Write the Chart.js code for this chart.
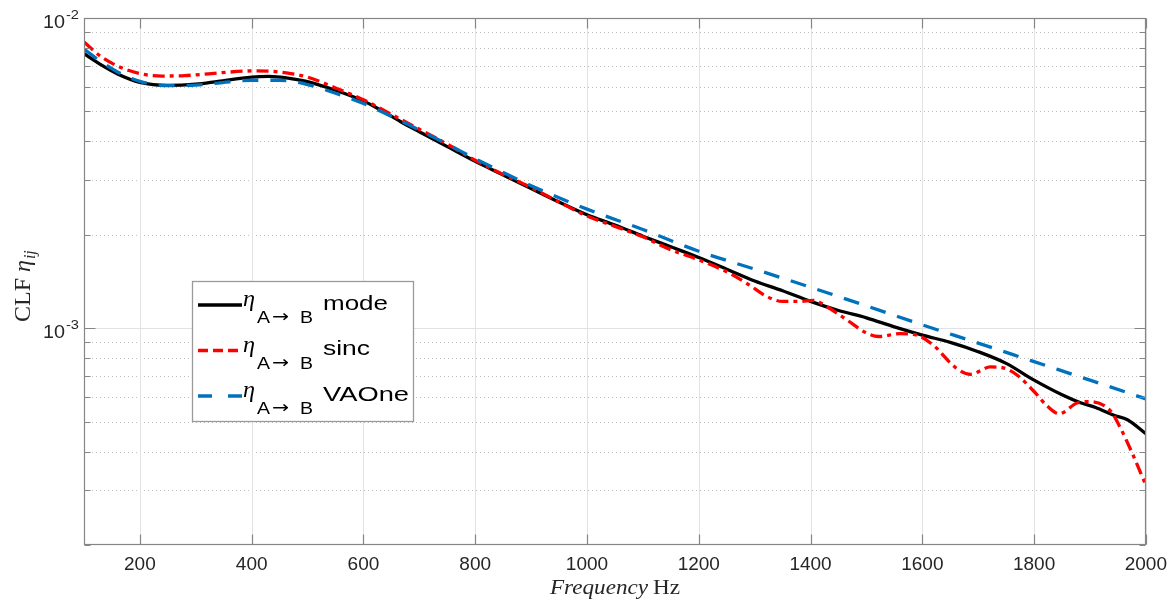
<!DOCTYPE html>
<html>
<head>
<meta charset="utf-8">
<script src="https://cdn.jsdelivr.net/npm/chart.js@4.4.0/dist/chart.umd.min.js"></script>
<style>
    html, body { margin: 0; padding: 0; background: #ffffff; }
    #wrap { position: relative; width: 1175px; height: 604px; }
</style>
</head>
<body>
<div id="wrap"><canvas id="clfChart" width="1175" height="604"></canvas></div>
<script>
// values (Hz / CLF)
const modeFreq = [100, 130, 160, 200, 250, 300, 340, 400, 430, 470, 500, 550, 600, 630, 666, 700, 750, 800, 850, 900, 950, 1000,
    1050, 1100, 1150, 1200, 1250, 1300, 1350, 1400, 1450, 1500, 1550, 1600, 1650, 1700, 1750, 1800, 1850, 1883, 1910, 1943, 1967, 2000];
const modeClf = [7.67e-3, 7.07e-3, 6.6e-3, 6.2e-3, 6.06e-3, 6.12e-3, 6.25e-3, 6.45e-3, 6.48e-3, 6.38e-3, 6.24e-3, 5.85e-3, 5.4e-3, 5.06e-3, 4.64e-3, 4.3e-3, 3.85e-3, 3.45e-3, 3.12e-3, 2.82e-3, 2.55e-3, 2.32e-3,
    2.15e-3, 1.98e-3, 1.83e-3, 1.69e-3, 1.55e-3, 1.42e-3, 1.32e-3, 1.22e-3, 1.14e-3, 1.08e-3, 1.01e-3, 9.5e-4, 9.0e-4, 8.4e-4, 7.7e-4, 6.8e-4, 6.1e-4, 5.75e-4, 5.55e-4, 5.24e-4, 5.07e-4, 4.57e-4];

const sincFreq = [100, 130, 160, 200, 240, 280, 340, 400, 430, 470, 500, 550, 600, 666, 700, 750, 800, 850, 900, 950, 1000,
    1050, 1100, 1150, 1200, 1250, 1290, 1320, 1350, 1380, 1405, 1430, 1466, 1500, 1522, 1560, 1590, 1620, 1660, 1686, 1722, 1745, 1770,
    1800, 1824, 1845, 1878, 1900, 1937, 1955, 1973, 2000];
const sincClf = [8.36e-3, 7.52e-3, 7.0e-3, 6.62e-3, 6.5e-3, 6.52e-3, 6.65e-3, 6.75e-3, 6.74e-3, 6.62e-3, 6.45e-3, 5.95e-3, 5.45e-3, 4.72e-3, 4.38e-3, 3.92e-3, 3.48e-3, 3.13e-3, 2.84e-3, 2.55e-3, 2.3e-3,
    2.13e-3, 1.97e-3, 1.79e-3, 1.66e-3, 1.52e-3, 1.38e-3, 1.27e-3, 1.22e-3, 1.22e-3, 1.23e-3, 1.17e-3, 1.06e-3, 9.65e-4, 9.4e-4, 9.6e-4, 9.5e-4, 8.8e-4, 7.45e-4, 7.1e-4, 7.5e-4, 7.45e-4, 7.05e-4,
    6.25e-4, 5.6e-4, 5.3e-4, 5.75e-4, 5.8e-4, 5.4e-4, 4.75e-4, 4.05e-4, 3.12e-4];

const vaoneFreq = [100, 130, 160, 200, 250, 300, 340, 400, 450, 500, 550, 600, 650, 700, 750, 800, 900, 1000,
    1100, 1200, 1300, 1400, 1500, 1600, 1700, 1800, 1900, 2000];
const vaoneClf = [7.94e-3, 7.24e-3, 6.7e-3, 6.25e-3, 6.05e-3, 6.08e-3, 6.17e-3, 6.3e-3, 6.3e-3, 6.1e-3, 5.72e-3, 5.3e-3, 4.82e-3, 4.35e-3, 3.92e-3, 3.52e-3, 2.88e-3, 2.42e-3,
    2.08e-3, 1.77e-3, 1.55e-3, 1.355e-3, 1.18e-3, 1.025e-3, 8.95e-4, 7.8e-4, 6.8e-4, 5.92e-4];

const xTickValues = [200, 400, 600, 800, 1000, 1200, 1400, 1600, 1800, 2000];
const yMajorTicks = [1e-3, 1e-2];
const yTickLabels = [['10', '-3'], ['10', '-2']];
const yMinorTicks = [2e-4, 3e-4, 4e-4, 5e-4, 6e-4, 7e-4, 8e-4, 9e-4, 2e-3, 3e-3, 4e-3, 5e-3, 6e-3, 7e-3, 8e-3, 9e-3];
const legendNames = ['mode', 'sinc', 'VAOne'];

const SANS = '"Liberation Sans", "DejaVu Sans", Arial, sans-serif';
const SERIF = '"Liberation Serif", "DejaVu Serif", "Times New Roman", serif';

function toPoints(xs, ys) {
    return xs.map((x, i) => ({ x: x, y: ys[i] }));
}

// draw text squeezed/stretched to a given width
function fitText(ctx, text, x, y, width) {
    const w = ctx.measureText(text).width;
    ctx.save();
    ctx.translate(x, y);
    ctx.scale(width / w, 1);
    ctx.fillText(text, 0, 0);
    ctx.restore();
}

const matlabAxes = {
    id: 'matlabAxes',
    beforeDatasetsDraw(chart) {
        const ctx = chart.ctx;
        const xs = chart.scales.x, ys = chart.scales.y;
        const { left, right, top, bottom } = chart.chartArea;
        ctx.save();
        ctx.lineWidth = 1;
        // minor dotted grid
        ctx.strokeStyle = '#bdbdbd';
        ctx.setLineDash([1, 3]);
        yMinorTicks.forEach(v => {
            const y = Math.round(ys.getPixelForValue(v)) + 0.5;
            if (y <= top + 1 || y >= bottom - 1) return;
            ctx.beginPath();
            ctx.moveTo(left, y);
            ctx.lineTo(right, y);
            ctx.stroke();
        });
        // major solid grid
        ctx.setLineDash([]);
        ctx.strokeStyle = '#e2e2e2';
        xTickValues.forEach(v => {
            const x = Math.round(xs.getPixelForValue(v)) + 0.5;
            ctx.beginPath();
            ctx.moveTo(x, top);
            ctx.lineTo(x, bottom);
            ctx.stroke();
        });
        yMajorTicks.forEach(v => {
            const y = Math.round(ys.getPixelForValue(v)) + 0.5;
            ctx.beginPath();
            ctx.moveTo(left, y);
            ctx.lineTo(right, y);
            ctx.stroke();
        });
        ctx.restore();
    },
    afterDatasetsDraw(chart) {
        const ctx = chart.ctx;
        const xs = chart.scales.x, ys = chart.scales.y;
        const { left, right, top, bottom } = chart.chartArea;
        const L = Math.round(left) + 0.5, R = Math.round(right) - 0.5;
        const T = Math.round(top) + 0.5, B = Math.round(bottom) - 0.5;
        ctx.save();
        ctx.strokeStyle = '#858585';
        ctx.lineWidth = 1.2;
        ctx.strokeRect(L, T, R - L, B - T);

        // tick marks, inside the box on all four sides
        ctx.beginPath();
        xTickValues.forEach(v => {
            const x = Math.round(xs.getPixelForValue(v)) + 0.5;
            ctx.moveTo(x, B); ctx.lineTo(x, B - 10);
            ctx.moveTo(x, T); ctx.lineTo(x, T + 10);
        });
        yMajorTicks.forEach(v => {
            const y = Math.round(ys.getPixelForValue(v)) + 0.5;
            ctx.moveTo(L, y); ctx.lineTo(L + 11, y);
            ctx.moveTo(R, y); ctx.lineTo(R - 11, y);
        });
        yMinorTicks.forEach(v => {
            const y = Math.round(ys.getPixelForValue(v)) + 0.5;
            ctx.moveTo(L, y); ctx.lineTo(L + 6, y);
            ctx.moveTo(R, y); ctx.lineTo(R - 6, y);
        });
        ctx.stroke();

        // y tick labels 10^-k
        ctx.fillStyle = '#262626';
        ctx.textAlign = 'left';
        ctx.textBaseline = 'alphabetic';
        yMajorTicks.forEach((v, i) => {
            const y = ys.getPixelForValue(v);
            ctx.font = '18px ' + SANS;
            fitText(ctx, yTickLabels[i][0], 43, y + 9.5, 22);
            ctx.font = '12px ' + SANS;
            fitText(ctx, yTickLabels[i][1], 66, y + 0.5, 13);
        });

        // x axis title
        ctx.font = 'italic 20px ' + SERIF;
        fitText(ctx, 'Frequency', 550, 594, 98);
        ctx.font = '20px ' + SERIF;
        fitText(ctx, 'Hz', 653, 594, 27);

        // y axis title, rotated
        ctx.save();
        ctx.translate(30, 322);
        ctx.rotate(-Math.PI / 2);
        ctx.font = '24px ' + SERIF;
        ctx.fillText('CLF', 0, 0);
        let cx = ctx.measureText('CLF ').width;
        ctx.font = 'italic 24px ' + SERIF;
        ctx.fillText('η', cx, 0);
        cx += ctx.measureText('η').width + 1;
        ctx.font = 'italic 16px ' + SERIF;
        ctx.fillText('ij', cx, 5);
        ctx.restore();

        // legend
        const bx = 192.5, by = 281.5, bw = 221, bh = 140;
        ctx.fillStyle = '#ffffff';
        ctx.fillRect(bx, by, bw, bh);
        ctx.strokeStyle = '#9a9a9a';
        ctx.lineWidth = 1.3;
        ctx.strokeRect(bx, by, bw, bh);
        const nameWidths = [65, 47, 86];
        chart.data.datasets.forEach((ds, i) => {
            const rowY = 305 + i * 45.5;
            ctx.save();
            ctx.strokeStyle = ds.borderColor;
            ctx.lineWidth = ds.borderWidth;
            ctx.setLineDash(ds.legendDash || ds.borderDash || []);
            ctx.beginPath();
            ctx.moveTo(198, rowY);
            ctx.lineTo(242, rowY);
            ctx.stroke();
            ctx.restore();
            ctx.fillStyle = '#000000';
            ctx.font = 'italic 23px ' + SERIF;
            fitText(ctx, 'η', 243, rowY + 1, 12);
            ctx.font = '17px ' + SANS;
            fitText(ctx, 'A', 257, rowY + 18, 13);
            ctx.font = '17px "DejaVu Sans", sans-serif';
            fitText(ctx, '→', 272, rowY + 17, 17);
            ctx.font = '17px ' + SANS;
            fitText(ctx, 'B', 300, rowY + 18, 13);
            ctx.font = '21px ' + SANS;
            fitText(ctx, legendNames[i], 323, rowY + 4.5, nameWidths[i]);
        });
        ctx.restore();
    }
};

const ctx = document.getElementById('clfChart').getContext('2d');
const chart = new Chart(ctx, {
    type: 'line',
    data: {
        datasets: [
            {
                label: 'mode',
                data: toPoints(modeFreq, modeClf),
                borderColor: '#000000',
                borderWidth: 3.3,
                pointRadius: 0,
                cubicInterpolationMode: 'monotone',
                order: 2
            },
            {
                label: 'sinc',
                data: toPoints(sincFreq, sincClf),
                borderColor: '#ff0000',
                borderWidth: 3.3,
                borderDash: [12, 5, 4, 5],
                legendDash: [10, 5],
                pointRadius: 0,
                cubicInterpolationMode: 'monotone',
                order: 1
            },
            {
                label: 'VAOne',
                data: toPoints(vaoneFreq, vaoneClf),
                borderColor: '#0072bd',
                borderWidth: 3.3,
                borderDash: [16, 12],
                legendDash: [14, 16],
                pointRadius: 0,
                cubicInterpolationMode: 'monotone',
                order: 0
            }
        ]
    },
    options: {
        responsive: false,
        animation: false,
        devicePixelRatio: 1,
        layout: { padding: { top: 18, right: 29, left: 0, bottom: 0 } },
        plugins: {
            legend: { display: false },
            tooltip: { enabled: false }
        },
        scales: {
            x: {
                type: 'linear',
                min: 100,
                max: 2000,
                grid: { display: false, drawTicks: false },
                border: { display: false },
                afterBuildTicks: scale => {
                    scale.ticks = xTickValues.map(v => ({ value: v }));
                },
                afterFit: scale => { scale.height = 59; },
                ticks: {
                    color: '#262626',
                    font: { family: SANS, size: 19 },
                    padding: 8,
                    maxRotation: 0,
                    autoSkip: false,
                    callback: v => String(v)
                }
            },
            y: {
                type: 'logarithmic',
                min: 2e-4,
                max: 1e-2,
                grid: { display: false, drawTicks: false },
                border: { display: false },
                ticks: { display: false },
                afterFit: scale => { scale.width = 84; }
            }
        }
    },
    plugins: [matlabAxes]
});
</script>
</body>
</html>
